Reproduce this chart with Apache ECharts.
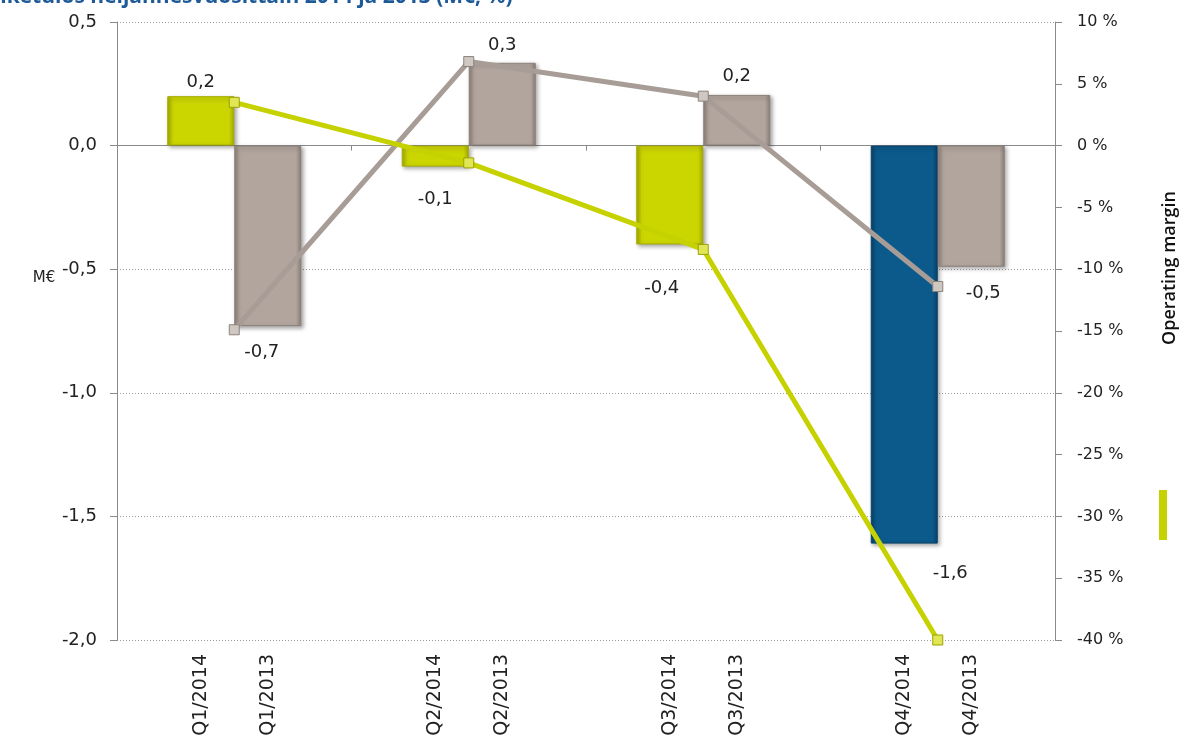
<!DOCTYPE html>
<html>
<head>
<meta charset="utf-8">
<script src="https://cdn.jsdelivr.net/npm/echarts@6/dist/echarts.min.js"></script>
<style>
html,body{margin:0;padding:0;background:#fff;}
#chart{width:1187px;height:742px;}
</style>
</head>
<body>
<div id="chart"></div>
<script>
// ---- data ----
const categories = ['Q1', 'Q2', 'Q3', 'Q4'];
const labels2014 = ['Q1/2014', 'Q2/2014', 'Q3/2014', 'Q4/2014'];
const labels2013 = ['Q1/2013', 'Q2/2013', 'Q3/2013', 'Q4/2013'];
const result2014 = [0.20, -0.085, -0.40, -1.61];   // M€
const result2013 = [-0.73, 0.335, 0.205, -0.49];   // M€
const margin2014 = [3.5, -1.4, -8.4, -40.0];       // %
const margin2013 = [-14.9, 6.8, 4.0, -11.4];       // %
const titleText = 'Liiketulos neljännesvuosittain 2014 ja 2013 (M€, %)';
const unitText = 'M€';
const legendText = 'Operating margin';

// ---- styles ----
const yellow = '#cbd500';
const yellowDark = '#a4ac00';
const taupe = '#b2a59d';
const taupeDark = '#8c8079';
const blue = '#0c5a8b';
const blueDark = '#08426a';
const font = 'DejaVu Sans';

function fmt1(v) { return v.toFixed(1).replace('.', ','); }

function barGrad(c1, c2) {
  return new echarts.graphic.LinearGradient(0, 0, 1, 0, [
    {offset: 0, color: c2}, {offset: 0.08, color: c1}, {offset: 0.92, color: c1}, {offset: 1, color: c2}
  ]);
}

const labelOff2014 = [
  {position: 'top', offset: [0, 0]},
  {position: 'bottom', offset: [0, 19]},
  {position: 'bottom', offset: [-8, 30]},
  {position: 'bottom', offset: [46, 16]}
];
const labelOff2013 = [
  {position: 'bottom', offset: [-6, 12]},
  {position: 'top', offset: [0, -3]},
  {position: 'top', offset: [0, -5]},
  {position: 'bottom', offset: [12, 13]}
];

const barLabelBase = {show: true, fontFamily: font, fontSize: 18, color: '#222', formatter: p => fmt1(p.value)};

const data2014 = result2014.map((v, i) => {
  const isBlue = i === 3;
  return {
    value: v,
    itemStyle: {
      color: isBlue ? barGrad(blue, blueDark) : barGrad(yellow, yellowDark),
      borderColor: isBlue ? blueDark : yellowDark
    },
    label: Object.assign({}, barLabelBase, labelOff2014[i])
  };
});
const data2013 = result2013.map((v, i) => ({
  value: v,
  label: Object.assign({}, barLabelBase, labelOff2013[i])
}));

const chart = echarts.init(document.getElementById('chart'), null, {renderer: 'canvas'});
const option = {
  animation: false,
  backgroundColor: '#fff',
  grid: {left: 117, right: 132, top: 22, bottom: 102, containLabel: false},
  xAxis: [
    {
      type: 'category', data: categories,
      axisLine: {show: true, onZero: true, onZeroAxisIndex: 0, lineStyle: {color: '#8a8a8a', width: 1}},
      axisTick: {show: true, length: 5, lineStyle: {color: '#8a8a8a'}},
      axisLabel: {show: false}, splitLine: {show: false}
    },
    {
      type: 'category', data: categories, position: 'bottom',
      axisLine: {show: false, onZero: false}, axisTick: {show: false}, splitLine: {show: false},
      axisLabel: {
        show: true, rotate: 90, margin: 14, interval: 0,
        fontFamily: font, fontSize: 19, color: '#222', lineHeight: 67,
        formatter: (v, i) => labels2014[i] + '\n' + labels2013[i]
      }
    }
  ],
  yAxis: [
    {
      type: 'value', position: 'left', min: -2, max: 0.5, interval: 0.5,
      axisLine: {show: true, lineStyle: {color: '#8a8a8a'}},
      axisTick: {show: true, length: 7, lineStyle: {color: '#8a8a8a'}},
      axisLabel: {margin: 20, fontFamily: font, fontSize: 18, color: '#222', formatter: v => fmt1(v)},
      splitLine: {show: true, lineStyle: {color: '#9a9a9a', type: [1, 2], width: 1}}
    },
    {
      type: 'value', position: 'right', min: -40, max: 10, interval: 5,
      axisLine: {show: true, lineStyle: {color: '#8a8a8a'}},
      axisTick: {show: true, length: 7, lineStyle: {color: '#8a8a8a'}},
      axisLabel: {margin: 22, fontFamily: font, fontSize: 16, color: '#222', formatter: v => v + ' %'},
      splitLine: {show: false}
    }
  ],
  series: [
    {
      name: '2014', type: 'bar', xAxisIndex: 0, yAxisIndex: 0, data: data2014,
      barWidth: 67, barGap: '0%',
      itemStyle: {borderWidth: 1, shadowColor: 'rgba(0,0,0,0.35)', shadowBlur: 4, shadowOffsetX: 2, shadowOffsetY: 2},
      z: 2
    },
    {
      name: '2013', type: 'bar', xAxisIndex: 0, yAxisIndex: 0, data: data2013,
      barWidth: 67, barGap: '0%',
      itemStyle: {color: barGrad(taupe, taupeDark), borderColor: taupeDark, borderWidth: 1,
        shadowColor: 'rgba(0,0,0,0.35)', shadowBlur: 4, shadowOffsetX: 2, shadowOffsetY: 2},
      z: 2
    },
    {
      name: 'Operating margin 2013', type: 'line', xAxisIndex: 0, yAxisIndex: 1, data: margin2013,
      lineStyle: {color: '#a89d96', width: 5},
      symbol: 'rect', symbolSize: 10,
      itemStyle: {color: '#cfc7c1', borderColor: '#8d827b', borderWidth: 1},
      z: 5
    },
    {
      name: 'Operating margin', type: 'line', xAxisIndex: 0, yAxisIndex: 1, data: margin2014,
      lineStyle: {color: '#c6d200', width: 5},
      symbol: 'rect', symbolSize: 10,
      itemStyle: {color: '#e0e656', borderColor: '#9aa200', borderWidth: 1},
      z: 6
    }
  ],
  graphic: [
    {
      type: 'text', left: -18, top: -13,
      style: {text: titleText, font: 'bold 21px "Open Sans"', fill: '#1f5a98'}
    },
    {
      type: 'text', x: 44, y: 278,
      style: {text: unitText, font: '15px "DejaVu Sans"', fill: '#222', align: 'center', verticalAlign: 'middle'}
    },
    {
      type: 'text', x: 1170, y: 268, rotation: Math.PI / 2,
      style: {text: legendText, font: '600 18px "Open Sans"', fill: '#111', align: 'center', verticalAlign: 'middle'}
    },
    {
      type: 'rect', shape: {x: 1159, y: 490, width: 8, height: 50},
      style: {fill: '#c6d200'}
    }
  ]
};
chart.setOption(option);
</script>
</body>
</html>
